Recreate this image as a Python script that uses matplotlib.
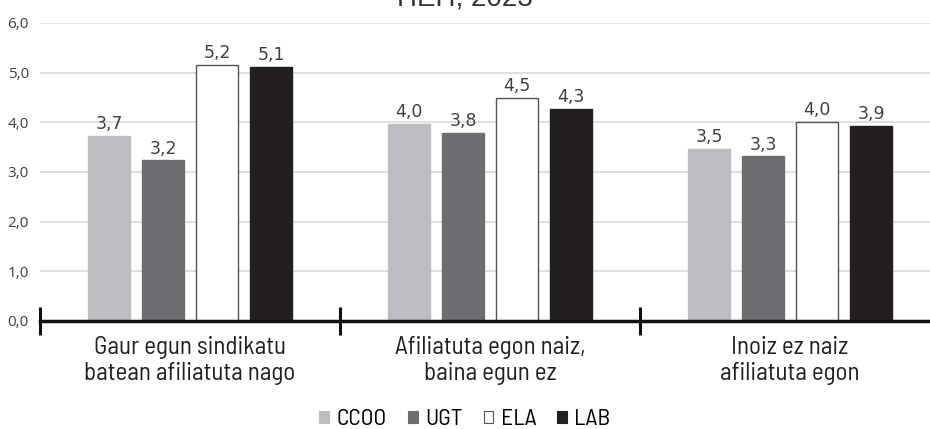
import matplotlib
matplotlib.use("Agg")
import matplotlib.pyplot as plt
from matplotlib.patches import Patch
import numpy as np

categories = ["Gaur egun sindikatu\nbatean afiliatuta nago",
              "Afiliatuta egon naiz,\nbaina egun ez",
              "Inoiz ez naiz\nafiliatuta egon"]
series_names = ["CCOO", "UGT", "ELA", "LAB"]
ccoo = [3.73, 3.97, 3.46]
ugt = [3.23, 3.79, 3.31]
ela = [5.16, 4.48, 4.01]
lab = [5.12, 4.26, 3.93]
yticks = [0, 1, 2, 3, 4, 5, 6]
title_text = "HEH, 2023"

series = [ccoo, ugt, ela, lab]
face = ["#bcbdc0", "#6d6e71", "#ffffff", "#231f20"]
edge = ["#bcbdc0", "#6d6e71", "#555555", "#231f20"]
cond = ["Barlow Semi Condensed", "DejaVu Sans"]

fig = plt.figure(figsize=(9.3, 4.29), dpi=100)
ax = fig.add_axes([40/930, 1-321/429, 1-40/930, (321-22.8)/429])

x = np.arange(len(categories))
w = 0.143
step = 0.18
for i, (vals, fc, ec) in enumerate(zip(series, face, edge)):
    pos = x + (i - 1.5) * step
    ax.bar(pos, vals, width=w, color=fc, edgecolor=ec, linewidth=1.0, zorder=3)
    for px, v in zip(pos, vals):
        ax.annotate(f"{v:.1f}".replace(".", ","), (px, v), xytext=(0, 5),
                    textcoords="offset points", ha="center", va="baseline",
                    fontsize=12.5, color="#404040", family="DejaVu Sans")

ax.set_xlim(-0.5, 2.5 - 10/300)
ax.set_ylim(0, 6)
ax.set_yticks(yticks)
ax.set_yticklabels([f"{t:.1f}".replace(".", ",") for t in yticks],
                   fontsize=11, color="#404040", family="Open Sans")
ax.tick_params(axis="y", length=0, pad=8)
ax.yaxis.grid(True, color="#d9d9d9", linewidth=1.2, zorder=0)
ax.set_axisbelow(True)
for s in ["top", "right", "left"]:
    ax.spines[s].set_visible(False)
ax.spines["bottom"].set_linewidth(2.5)
ax.spines["bottom"].set_color("#111111")
ax.spines["bottom"].set_zorder(4)

ax.set_xticks([-0.5, 0.5, 1.5], minor=False)
ax.set_xticklabels([])
ax.tick_params(axis="x", which="major", direction="inout", length=20, width=2.2,
               color="#111111")
for xi, lab_txt in zip(x, categories):
    ax.text(xi, -0.31, lab_txt, ha="center", va="top", fontsize=18,
            family=cond, color="#231f20", linespacing=1.12, transform=ax.transData)

fig.text(0.5, 1-5.5/429, title_text, ha="center", va="baseline", fontsize=20,
         color="#333333", family="Liberation Sans")

handles = [Patch(facecolor=fc, edgecolor=ec, linewidth=0.8) for fc, ec in zip(face, edge)]
fig.legend(handles, series_names, loc="center", bbox_to_anchor=(0.5, 0.022),
           ncol=4, frameon=False, handlelength=0.42, handleheight=0.42,
           handletextpad=0.3, columnspacing=0.9,
           prop={"family": cond, "size": 17})

fig.savefig("out.png", dpi=100)
